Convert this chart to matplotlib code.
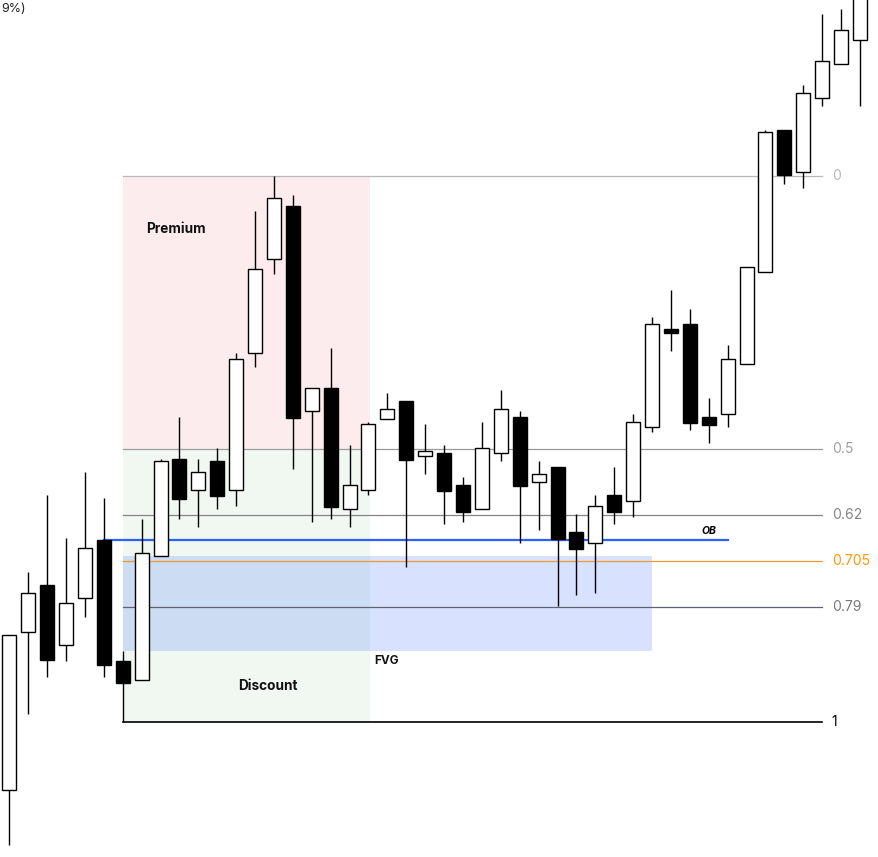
import matplotlib.pyplot as plt
from matplotlib.patches import Rectangle

plt.rcParams['font.family'] = ['Inter', 'DejaVu Sans']

# candles (price units)
opens = [93.2, 109.0, 113.7, 107.7, 112.4, 118.2, 106.1, 104.2, 116.6, 126.3,
         123.2, 126.1, 123.2, 136.9, 146.3, 151.6, 131.1, 133.4, 121.3, 123.2,
         130.3, 132.1, 126.6, 126.9, 123.7, 121.3, 126.9, 130.5, 124.0, 125.5,
         119.0, 117.9, 122.7, 122.1, 129.5, 139.2, 139.8, 130.5, 130.8, 135.8,
         145.0, 159.2, 155.0, 162.4, 165.8, 168.2]
highs = [108.7, 115.0, 122.7, 118.4, 125.0, 122.4, 107.1, 120.3, 126.3, 130.5,
         126.3, 127.4, 136.9, 151.1, 154.6, 152.7, 133.4, 137.4, 127.7, 130.0,
         132.9, 132.1, 129.8, 127.7, 124.5, 130.0, 133.2, 131.1, 126.1, 125.5,
         120.8, 122.7, 125.5, 130.8, 140.5, 143.2, 141.3, 132.4, 137.7, 145.5,
         159.2, 159.2, 163.7, 170.8, 171.3, 173.7]
lows = [87.7, 100.8, 104.5, 106.1, 110.5, 104.5, 100.0, 104.2, 116.6, 120.3,
        119.5, 121.3, 121.6, 135.5, 144.8, 125.3, 120.0, 120.3, 119.5, 122.7,
        130.3, 115.5, 124.8, 119.8, 120.0, 121.3, 126.1, 117.9, 119.2, 111.6,
        112.7, 112.9, 119.8, 120.5, 129.0, 137.1, 129.2, 127.9, 129.5, 135.8,
        145.0, 153.8, 153.4, 161.6, 165.8, 161.6]
closes = [108.7, 112.9, 106.2, 111.9, 117.4, 105.7, 103.9, 116.9, 126.1, 122.3,
          125.0, 122.6, 136.3, 145.3, 152.4, 130.4, 133.4, 121.5, 123.7, 129.8,
          131.3, 126.2, 127.1, 123.1, 121.0, 127.4, 131.3, 123.6, 124.8, 118.3,
          117.3, 121.6, 121.0, 130.0, 139.8, 138.9, 129.9, 129.7, 136.3, 145.5,
          159.0, 154.7, 162.9, 166.1, 169.2, 172.7]

# fib retracement from the low of candle 7 to the high of candle 15
fib_levels = [0, 0.5, 0.62, 0.705, 0.79, 1]
fib_labels = ['0', '0.5', '0.62', '0.705', '0.79', '1']
fib_line_colors = ['#b8b8b8', '#9a9a9a', '#848484', '#f29a2e', '#5f6270', '#000000']
fib_text_colors = ['#b8b8b8', '#a0a0a0', '#848484', '#ff9800', '#787878', '#000000']
fib_start, fib_end, zone_end = 6, 43, 19.08
fib_low, fib_high = lows[6], highs[14]

# fair value gap: high of candle 7 up to low of candle 9
fvg_start, fvg_end = 6, 34
fvg_bottom, fvg_top = highs[6], lows[8]

# order block: open of candle 6
ob_start, ob_end = 5, 38
ob_level = opens[5]

fig = plt.figure(figsize=(8.79, 8.57), dpi=100)
ax = fig.add_axes([0, 0, 1, 1])
ax.set_xlim(-0.492, 46.006)
ax.set_ylim(86.5, 172.2)
ax.axis('off')

rng = fib_high - fib_low
mid = fib_high - 0.5 * rng
ax.add_patch(Rectangle((fib_start, mid), zone_end - fib_start, fib_high - mid,
                       facecolor='#fdeced', edgecolor='none', zorder=0))
ax.add_patch(Rectangle((fib_start, fib_low), zone_end - fib_start, mid - fib_low,
                       facecolor='#f1f8f1', edgecolor='none', zorder=0))
ax.add_patch(Rectangle((fvg_start, fvg_bottom), fvg_end - fvg_start, fvg_top - fvg_bottom,
                       facecolor='#2962ff', alpha=0.18, edgecolor='none', zorder=1))

for lvl, lab, lc, tc in zip(fib_levels, fib_labels, fib_line_colors, fib_text_colors):
    price = fib_high - lvl * rng
    lw = 1.2 if lvl == 1 else 0.9
    ax.plot([fib_start, fib_end], [price, price], color=lc, lw=lw, zorder=2)
    ax.text(fib_end + 0.5, price, lab, color=tc, fontsize=10, va='center', ha='left')

ax.plot([ob_start, ob_end], [ob_level, ob_level], color='#2962ff', lw=1.6, zorder=2)
ax.text(ob_end - 0.6, ob_level + 0.35, 'OB', fontsize=7.5, fontweight='bold',
        fontstyle='italic', ha='right', va='bottom')

ax.text(8.8, 149.3, 'Premium', fontsize=9.8, fontweight='bold', ha='center', va='center',
        color='#111111')
ax.text(13.7, 103.6, 'Discount', fontsize=9.8, fontweight='bold', ha='center', va='center',
        color='#111111')
ax.text(19.3, 106.1, 'FVG', fontsize=8.5, fontweight='bold', ha='left', va='center',
        color='#111111')

body_w = 0.74
for i, (o, h, l, c) in enumerate(zip(opens, highs, lows, closes)):
    ax.plot([i, i], [l, h], color='black', lw=1.0, zorder=3, solid_capstyle='butt')
    up = c >= o
    bottom = min(o, c)
    height = max(abs(c - o), 0.35)
    ax.add_patch(Rectangle((i - body_w / 2, bottom), body_w, height,
                           facecolor='white' if up else 'black', edgecolor='black',
                           lw=1.0, zorder=4))

fig.text(0.001, 0.997, '9%)', fontsize=9, ha='left', va='top', color='#222222')

plt.savefig('out.png', dpi=100)
